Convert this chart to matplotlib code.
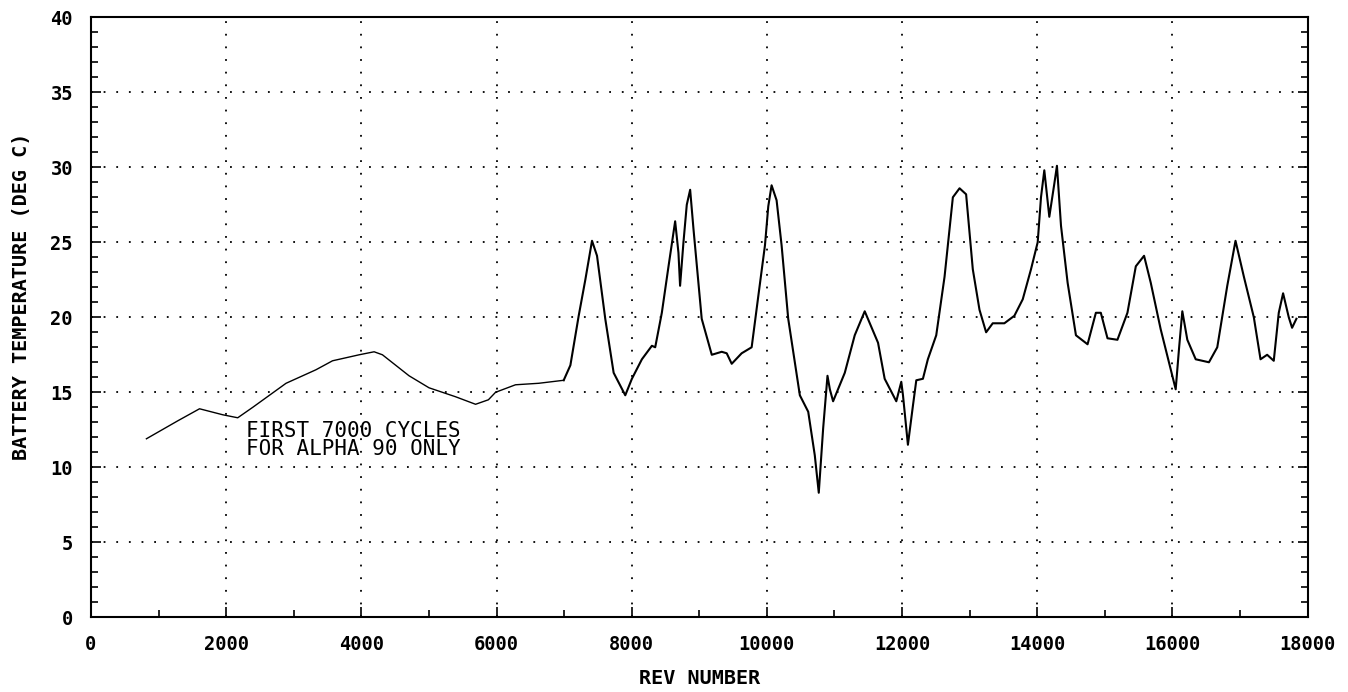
import matplotlib.pyplot as plt
from matplotlib.ticker import MultipleLocator

# first 7000 cycles (alpha 90 only)
rev_early = [820, 1285, 1606, 1950, 2171, 2394, 2640, 2886, 3328, 3574, 3968, 4189,
             4312, 4706, 5001, 5395, 5690, 5880, 5986, 6281, 6626, 6994]
temp_early = [11.9, 13.1, 13.9, 13.5, 13.3, 14.0, 14.8, 15.6, 16.5, 17.1, 17.5, 17.7,
              17.5, 16.1, 15.3, 14.7, 14.2, 14.5, 15.0, 15.5, 15.6, 15.8]

rev = [6994, 7093, 7216, 7314, 7413, 7487, 7609, 7733, 7905, 8003, 8151, 8299, 8348,
       8446, 8545, 8643, 8692, 8716, 8766, 8815, 8865, 8914, 9036, 9185, 9332, 9406,
       9480, 9627, 9775, 9873, 9972, 10021, 10070, 10144, 10218, 10316, 10488, 10612,
       10709, 10768, 10833, 10897, 10932, 10980, 11153, 11300, 11448, 11645, 11743,
       11915, 11989, 12014, 12087, 12161, 12211, 12309, 12382, 12506, 12629, 12752,
       12851, 12948, 13047, 13146, 13244, 13342, 13514, 13662, 13786, 13908, 14007,
       14056, 14105, 14179, 14253, 14292, 14352, 14450, 14573, 14745, 14868, 14941,
       15040, 15187, 15335, 15459, 15581, 15680, 15827, 16049, 16098, 16147, 16221,
       16345, 16541, 16664, 16812, 16934, 17058, 17205, 17304, 17402, 17500, 17574,
       17638, 17722, 17771, 17835]
temp = [15.8, 16.8, 20.1, 22.5, 25.1, 24.1, 19.9, 16.3, 14.8, 15.9, 17.2, 18.1, 18.0,
        20.3, 23.4, 26.4, 24.3, 22.1, 25.0, 27.5, 28.5, 25.9, 19.9, 17.5, 17.7, 17.6,
        16.9, 17.6, 18.0, 21.4, 24.8, 27.4, 28.8, 27.8, 24.8, 19.9, 14.8, 13.7,
        10.8, 8.3, 12.6, 16.1, 15.2, 14.4, 16.3, 18.8, 20.4, 18.3, 15.9,
        14.4, 15.7, 14.8, 11.5, 14.1, 15.8, 15.9, 17.2, 18.8, 22.7, 28.0,
        28.6, 28.2, 23.2, 20.5, 19.0, 19.6, 19.6, 20.1, 21.2, 23.2, 25.0,
        28.0, 29.8, 26.7, 28.9, 30.1, 26.1, 22.3, 18.8, 18.2, 20.3, 20.3,
        18.6, 18.5, 20.3, 23.4, 24.1, 22.3, 19.2, 15.2, 17.9, 20.4, 18.5,
        17.2, 17.0, 18.0, 22.1, 25.1, 22.7, 20.0, 17.2, 17.5, 17.1, 20.3,
        21.6, 20.0, 19.3, 19.9]

mono = "DejaVu Sans Mono"

fig = plt.figure(figsize=(13.48, 6.92), dpi=100)
ax = fig.add_axes([0.0675, 0.108, 0.9025, 0.867])

ax.plot(rev_early, temp_early, color="k", lw=1.0)
ax.plot(rev, temp, color="k", lw=1.5)

ax.set_xlim(0, 18000)
ax.set_ylim(0, 40)
ax.xaxis.set_major_locator(MultipleLocator(2000))
ax.xaxis.set_minor_locator(MultipleLocator(1000))
ax.yaxis.set_major_locator(MultipleLocator(5))
ax.yaxis.set_minor_locator(MultipleLocator(1))
ax.tick_params(which="both", direction="in", right=True, top=False, width=1.2,
               labelsize=13.5, labelfontfamily=mono)
ax.tick_params(which="major", length=7)
ax.tick_params(which="minor", length=5)
ax.tick_params(axis="y", pad=13)
ax.tick_params(axis="x", pad=13)
for lab in ax.get_xticklabels() + ax.get_yticklabels():
    lab.set_fontweight("bold")

ax.grid(True, which="major", color="k", ls=(0, (1, 6)), lw=1.3)
for s in ax.spines.values():
    s.set_linewidth(1.5)

ax.text(2300, 13.1, "FIRST 7000 CYCLES\nFOR ALPHA 90 ONLY", family=mono,
        fontsize=15, va="top", ha="left", linespacing=0.9)

ax.set_xlabel("REV NUMBER", family=mono, fontsize=14.5, fontweight="bold")
ax.set_ylabel("BATTERY TEMPERATURE (DEG C)", family=mono, fontsize=14.5,
              fontweight="bold")
ax.xaxis.set_label_coords(0.5, -0.087)
ax.yaxis.set_label_coords(-0.049, 0.535)

plt.savefig("out.png")
